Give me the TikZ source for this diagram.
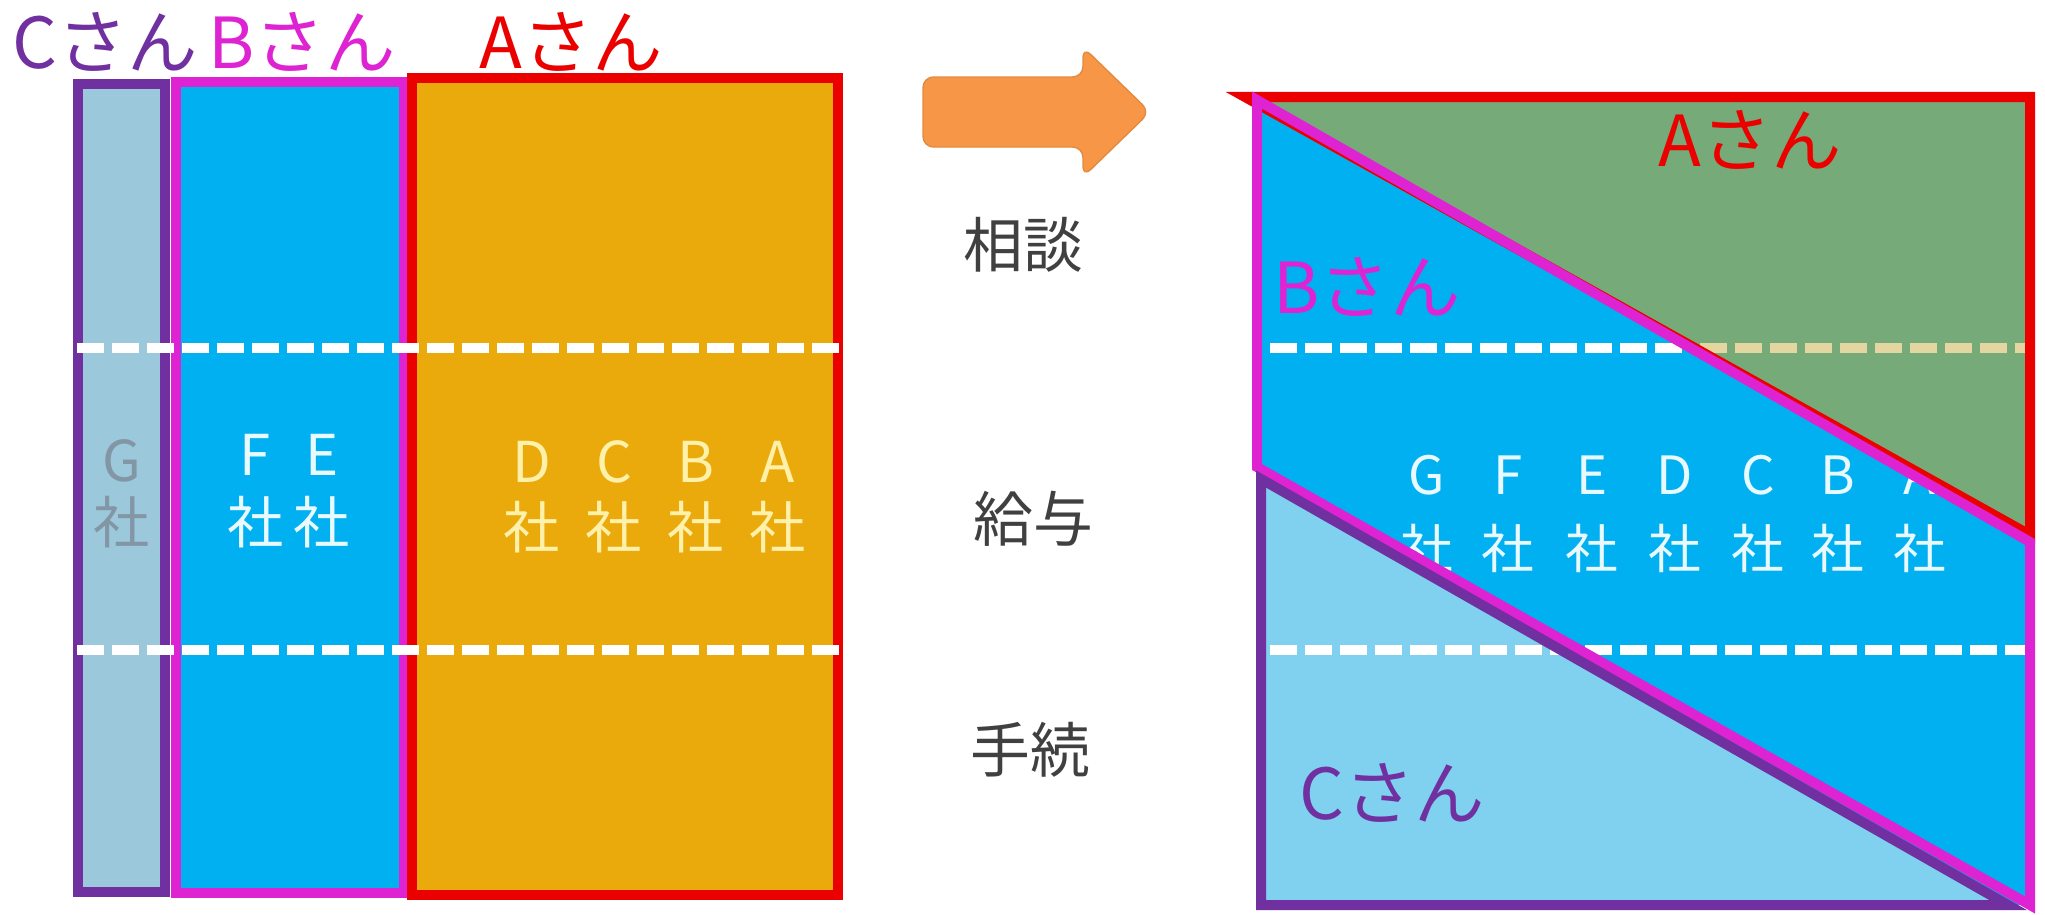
\documentclass[tikz,border=0pt]{standalone}
\usepackage{fontspec}
\setmainfont{Noto Sans CJK JP}
\usepackage{tikz}
\usetikzlibrary{positioning}
\definecolor{cpurple}{RGB}{112,48,160}
\definecolor{cmagenta}{RGB}{222,36,210}
\definecolor{cred}{RGB}{235,0,0}
\definecolor{cgold}{RGB}{235,170,12}
\definecolor{cblue}{RGB}{0,176,240}
\definecolor{cgrayblue}{RGB}{155,200,218}
\definecolor{clightblue}{RGB}{128,208,240}
\definecolor{cgreen}{RGB}{118,170,120}
\definecolor{corange}{RGB}{247,150,70}
\definecolor{cbeige}{RGB}{228,214,160}
\definecolor{ctext}{RGB}{64,64,64}
\definecolor{cyellow}{RGB}{255,240,170}
\definecolor{cwhite}{RGB}{232,250,255}
\definecolor{cgtext}{RGB}{130,150,165}

\begin{document}
\begin{tikzpicture}[x=0.01cm,y=-0.01cm,
  bord/.style={line width=0.1cm},
  dsh/.style={line width=0.1cm,dash pattern=on 0.27cm off 0.08cm},
  who/.style={font=\fontsize{20}{20}\selectfont,inner sep=0pt},
  co/.style={font=\fontsize{16}{16}\selectfont,inner sep=0pt},
  cor/.style={font=\fontsize{15}{15}\selectfont,inner sep=0pt},
  mid/.style={font=\fontsize{17}{17}\selectfont,text=ctext,inner sep=0pt}]
\useasboundingbox (0,0) rectangle (2045,915);

\draw[bord,cpurple,fill=cgrayblue] (78,84) rectangle (165,892);
\draw[bord,cmagenta,fill=cblue] (176,82) rectangle (404,893);
\draw[bord,cred,fill=cgold] (412,78) rectangle (838,895);

\node[who,text=cpurple] (Cl) at (105,42) {Cさん};
\node[who,text=cmagenta] (Bl) at (302,42) {Bさん};
\node[who,text=cred] (Al) at (571,42) {Aさん};

\node[co,text=cgtext] (Gl) at (122,461) {G};
\node[co,text=cgtext] (Gls) at (122,522) {社};
\node[co,text=cwhite] (Fl) at (255,455) {F};
\node[co,text=cwhite] (Fls) at (256,522) {社};
\node[co,text=cwhite] (El) at (322,455) {E};
\node[co,text=cwhite] (Els) at (322,522) {社};
\node[co,text=cyellow] (Dl) at (532,462) {D};
\node[co,text=cyellow] (Dls) at (532,527) {社};
\node[co,text=cyellow] (Cpl) at (614,462) {C};
\node[co,text=cyellow] (Cpls) at (614,527) {社};
\node[co,text=cyellow] (Bpl) at (696,462) {B};
\node[co,text=cyellow] (Bpls) at (696,527) {社};
\node[co,text=cyellow] (Apl) at (778,462) {A};
\node[co,text=cyellow] (Apls) at (778,527) {社};

\draw[dsh,white] (77,348) -- (840,348);
\draw[dsh,white] (77,650) -- (840,650);

\draw[corange!92!black,fill=corange,rounded corners=3pt] (923,77) -- (1083,77) -- (1083,47) -- (1150,112) -- (1083,177) -- (1083,147) -- (923,147) -- cycle;

\node[mid] (sodan) at (1023,245) {相談};
\node[mid] (kyuyo) at (1033,519) {給与};
\node[mid] (tetsu) at (1030,750) {手続};

\fill[cblue] (1257,97) rectangle (2030,905);

\node[cor,text=cwhite] (Gr) at (1427,475) {G};
\node[cor,text=cwhite] (Grs) at (1427,548) {社};
\node[cor,text=cwhite] (Fr) at (1508,475) {F};
\node[cor,text=cwhite] (Frs) at (1508,548) {社};
\node[cor,text=cwhite] (Er) at (1592,475) {E};
\node[cor,text=cwhite] (Ers) at (1592,548) {社};
\node[cor,text=cwhite] (Dr) at (1675,475) {D};
\node[cor,text=cwhite] (Drs) at (1675,548) {社};
\node[cor,text=cwhite] (Cpr) at (1758,475) {C};
\node[cor,text=cwhite] (Cprs) at (1758,548) {社};
\node[cor,text=cwhite] (Bpr) at (1838,475) {B};
\node[cor,text=cwhite] (Bprs) at (1838,548) {社};
\node[cor,text=cwhite] (Apr) at (1920,475) {A};
\node[cor,text=cwhite] (Aprs) at (1920,548) {社};

\fill[cgreen] (1250,97) -- (2030,97) -- (2030,540) -- cycle;
\fill[clightblue] (1261,479) -- (2008,905) -- (1261,905) -- cycle;

\draw[dsh,white] (1270,348) -- (1690,348);
\draw[dsh,cbeige] (1700,348) -- (2025,348);
\draw[dsh,white] (1270,650) -- (2025,650);

\draw[bord,cred] (1245,97) -- (2030,97) -- (2030,535) -- cycle;
\draw[bord,cmagenta] (1257,100) -- (2030,542) -- (2030,905) -- (1257,467) -- cycle;
\draw[bord,cpurple] (1261,479) -- (2008,905) -- (1261,905) -- cycle;

\node[who,text=cred] (Ar) at (1750,140) {Aさん};
\node[who,text=cmagenta] (Br) at (1367,287) {Bさん};
\node[who,text=cpurple] (Cr) at (1392,793) {Cさん};
\end{tikzpicture}
\end{document}
